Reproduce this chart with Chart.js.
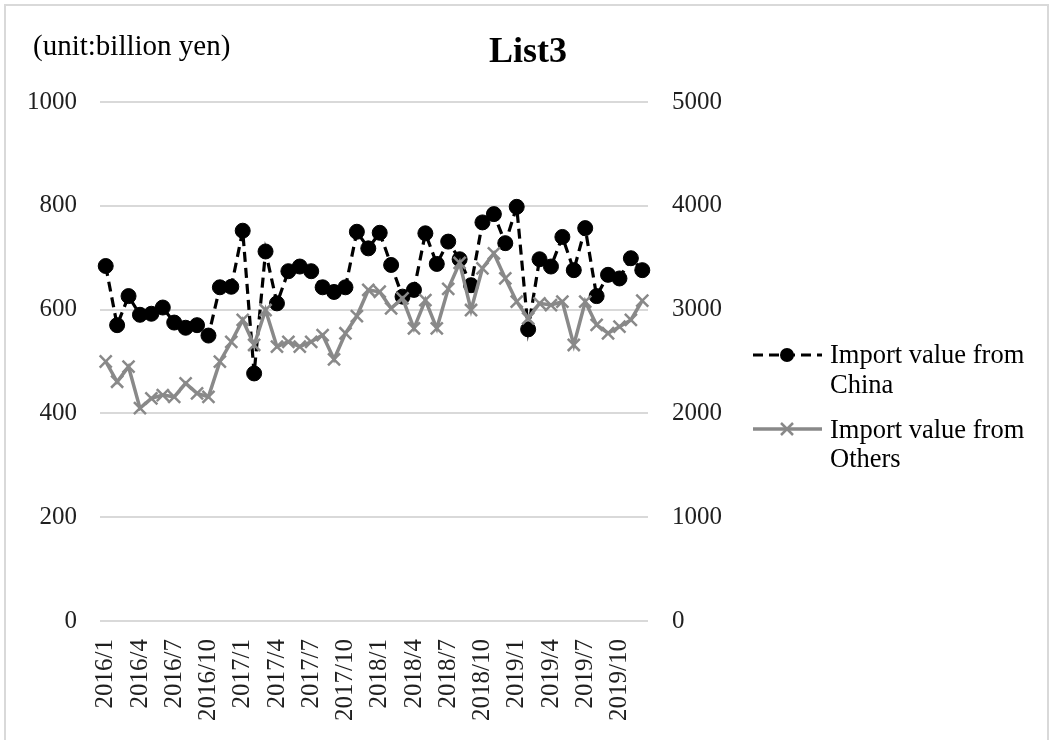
<!DOCTYPE html>
<html>
<head>
<meta charset="utf-8">
<script src="https://cdn.jsdelivr.net/npm/chart.js@4/dist/chart.umd.min.js"></script>
<style>
  html, body { margin: 0; padding: 0; background: #ffffff; }
  #wrap { width: 1053px; height: 740px; }
</style>
</head>
<body>
<div id="wrap"><canvas id="c" width="1053" height="740"></canvas></div>
<script>
// Monthly categories, 2016/1 .. 2019/12
const months = [
  '2016/1','2016/2','2016/3','2016/4','2016/5','2016/6','2016/7','2016/8','2016/9','2016/10','2016/11','2016/12',
  '2017/1','2017/2','2017/3','2017/4','2017/5','2017/6','2017/7','2017/8','2017/9','2017/10','2017/11','2017/12',
  '2018/1','2018/2','2018/3','2018/4','2018/5','2018/6','2018/7','2018/8','2018/9','2018/10','2018/11','2018/12',
  '2019/1','2019/2','2019/3','2019/4','2019/5','2019/6','2019/7','2019/8','2019/9','2019/10','2019/11','2019/12'
];

// Import value from China (left axis, billion yen)
const importChina = [
  684, 570, 626, 590, 592, 604, 575, 565, 570, 550, 643, 644,
  752, 477, 712, 612, 674, 683, 674, 643, 634, 643, 750, 718,
  748, 686, 625, 638, 747, 688, 731, 697, 647, 768, 784, 728,
  798, 562, 697, 683, 740, 676, 757, 626, 667, 660, 699, 676
];

// Import value from Others (right axis, billion yen)
const importOthers = [
  2500, 2305, 2450, 2050, 2145, 2177, 2160, 2290, 2193, 2160, 2498, 2690,
  2900, 2659, 2996, 2643, 2690, 2643, 2690, 2755, 2521, 2772, 2938, 3189,
  3172, 3012, 3109, 2820, 3092, 2820, 3200, 3450, 2996, 3398, 3542, 3301,
  3076, 2916, 3060, 3044, 3076, 2659, 3076, 2852, 2772, 2835, 2900, 3086
];

// Axis tick values
const leftTicks = [0, 200, 400, 600, 800, 1000];
const rightTicks = [0, 1000, 2000, 3000, 4000, 5000];

const chartTitle = 'List3';
const unitLabel = '(unit:billion yen)';
const seriesNames = [['Import value from', 'China'], ['Import value from', 'Others']];

const SERIF = '"Liberation Serif", "Times New Roman", serif';
const GRAY = '#898989';
const GRID = '#d9d9d9';
const TICK_COLOR = '#1f1f1f';

// Frame, heading, unit note and the legend on the right
const decorations = {
  id: 'decorations',
  beforeDraw(chart) {
    const ctx = chart.ctx;
    ctx.save();
    ctx.fillStyle = '#ffffff';
    ctx.fillRect(0, 0, chart.width, chart.height);
    ctx.strokeStyle = GRID;
    ctx.lineWidth = 2;
    ctx.strokeRect(5, 5, chart.width - 10, chart.height + 10);
    ctx.restore();
  },
  afterDraw(chart) {
    const ctx = chart.ctx;
    ctx.save();
    ctx.fillStyle = '#000000';
    ctx.textBaseline = 'alphabetic';

    ctx.font = 'bold 36px ' + SERIF;
    ctx.textAlign = 'center';
    ctx.fillText(chartTitle, 528, 62);

    ctx.font = '29px ' + SERIF;
    ctx.textAlign = 'left';
    ctx.fillText(unitLabel, 33, 55);

    // legend entries
    const x0 = 753, x1 = 822, xm = 787, tx = 830;
    // China
    let y = 355;
    ctx.strokeStyle = '#000000';
    ctx.lineWidth = 3;
    ctx.setLineDash([10, 6]);
    ctx.beginPath(); ctx.moveTo(x0, y); ctx.lineTo(x1, y); ctx.stroke();
    ctx.setLineDash([]);
    ctx.beginPath(); ctx.arc(xm, y, 7, 0, Math.PI * 2); ctx.fill();
    ctx.font = '26.5px ' + SERIF;
    ctx.fillStyle = '#000000';
    ctx.fillText(seriesNames[0][0], tx, 363);
    ctx.fillText(seriesNames[0][1], tx, 393);
    // Others
    y = 429;
    ctx.strokeStyle = GRAY;
    ctx.lineWidth = 3.5;
    ctx.beginPath(); ctx.moveTo(x0, y); ctx.lineTo(x1, y); ctx.stroke();
    ctx.lineWidth = 2.5;
    const r = 6;
    ctx.beginPath();
    ctx.moveTo(xm - r, y - r); ctx.lineTo(xm + r, y + r);
    ctx.moveTo(xm - r, y + r); ctx.lineTo(xm + r, y - r);
    ctx.stroke();
    ctx.fillText(seriesNames[1][0], tx, 438);
    ctx.fillText(seriesNames[1][1], tx, 467);
    ctx.restore();
  }
};

const plainNumber = (v) => String(v);

new Chart(document.getElementById('c'), {
  type: 'line',
  data: {
    labels: months,
    datasets: [
      {
        label: 'Import value from China',
        data: importChina,
        yAxisID: 'yLeft',
        order: 2,
        borderColor: '#000000',
        backgroundColor: '#000000',
        borderWidth: 3.2,
        borderDash: [10, 6],
        pointStyle: 'circle',
        pointRadius: 7.5,
        pointBackgroundColor: '#000000',
        pointBorderColor: '#000000',
        pointBorderWidth: 1,
        tension: 0
      },
      {
        label: 'Import value from Others',
        data: importOthers,
        yAxisID: 'yRight',
        order: 1,
        borderColor: GRAY,
        backgroundColor: GRAY,
        borderWidth: 3.5,
        pointStyle: 'crossRot',
        pointRadius: 8.5,
        pointBorderColor: GRAY,
        pointBorderWidth: 2.5,
        tension: 0
      }
    ]
  },
  options: {
    responsive: false,
    animation: false,
    devicePixelRatio: 1,
    layout: { padding: { top: 102, left: 0, right: 0, bottom: 0 } },
    plugins: {
      legend: { display: false },
      title: { display: false },
      tooltip: { enabled: false }
    },
    scales: {
      x: {
        type: 'category',
        offset: true,
        grid: { display: false, drawTicks: false },
        border: { display: false },
        ticks: {
          autoSkip: false,
          maxRotation: 90,
          minRotation: 90,
          padding: 18,
          color: TICK_COLOR,
          font: { family: SERIF, size: 25 },
          callback: (v, i) => (i % 3 === 0 ? months[i] : '')
        },
        afterFit: (s) => { s.height = 119; }
      },
      yLeft: {
        position: 'left',
        min: 0,
        max: 1000,
        afterBuildTicks: (s) => { s.ticks = leftTicks.map(v => ({ value: v })); },
        grid: { color: GRID, lineWidth: 2, drawTicks: false },
        border: { display: false },
        ticks: {
          padding: 23,
          color: TICK_COLOR,
          font: { family: SERIF, size: 25 },
          callback: plainNumber
        },
        afterFit: (s) => { s.width = 100; }
      },
      yRight: {
        position: 'right',
        min: 0,
        max: 5000,
        afterBuildTicks: (s) => { s.ticks = rightTicks.map(v => ({ value: v })); },
        grid: { display: false, drawTicks: false },
        border: { display: false },
        ticks: {
          padding: 24,
          color: TICK_COLOR,
          font: { family: SERIF, size: 25 },
          callback: plainNumber
        },
        afterFit: (s) => { s.width = 405; }
      }
    }
  },
  plugins: [decorations]
});
</script>
</body>
</html>
